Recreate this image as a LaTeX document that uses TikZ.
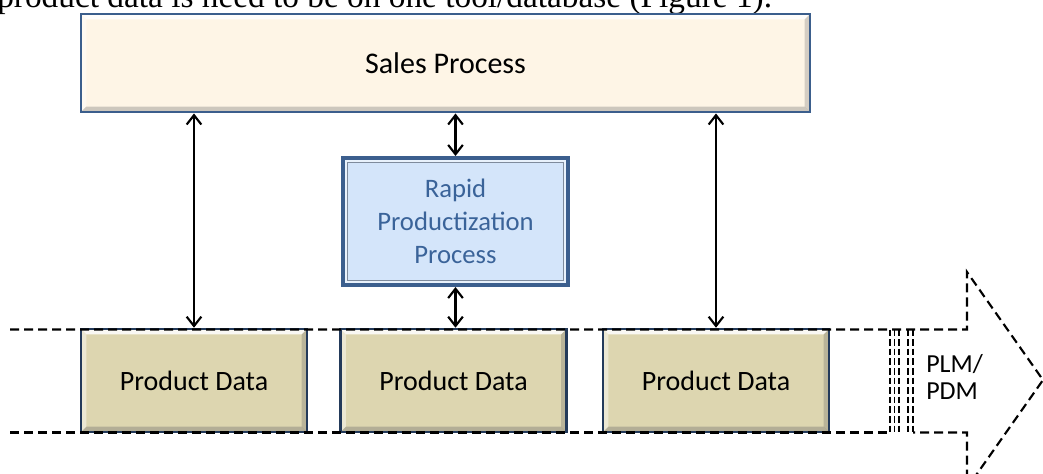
\documentclass[tikz,border=0pt]{standalone}
\usepackage{fontspec}
\setmainfont{Carlito}
\newfontfamily\bodyserif{Liberation Serif}
\usetikzlibrary{arrows.meta}

\definecolor{salesfill}{HTML}{FEF5E6}
\definecolor{salesedge}{HTML}{3B5E8C}
\definecolor{rapidfill}{HTML}{D4E5FA}
\definecolor{rapidedge}{HTML}{3C5F8E}
\definecolor{rapidinner}{HTML}{7F8B9C}
\definecolor{rapidtext}{HTML}{3A6399}
\definecolor{datafill}{HTML}{DDD6B0}
\definecolor{dataedge}{HTML}{233A5A}

% soft raised faces along the four inner sides of a box
\newcommand\bevelfaces[3]{%
  \fill[#2,opacity=.85] (path picture bounding box.north west) -- (path picture bounding box.north east)
     -- ([shift={(-#1,-#1)}]path picture bounding box.north east)
     -- ([shift={(#1,-#1)}]path picture bounding box.north west) -- cycle;
  \fill[#2,opacity=.45] (path picture bounding box.north west) -- ([shift={(#1,-#1)}]path picture bounding box.north west)
     -- ([shift={(#1,#1)}]path picture bounding box.south west) -- (path picture bounding box.south west) -- cycle;
  \fill[#3,opacity=.35] (path picture bounding box.south west) -- (path picture bounding box.south east)
     -- ([shift={(-#1,#1)}]path picture bounding box.south east)
     -- ([shift={(#1,#1)}]path picture bounding box.south west) -- cycle;
  \fill[#3,opacity=.3] (path picture bounding box.north east) -- ([shift={(-#1,-#1)}]path picture bounding box.north east)
     -- ([shift={(-#1,#1)}]path picture bounding box.south east) -- (path picture bounding box.south east) -- cycle;
}

\tikzset{
  salesbox/.style={rectangle, inner sep=0pt, fill=salesfill, draw=salesedge, line width=2.2pt,
    minimum width=546.75pt, minimum height=73.5pt,
    font=\fontsize{22.5}{27}\selectfont,
    path picture={\bevelfaces{4pt}{white}{black!55}}},
  rapidbox/.style={rectangle, inner sep=0pt, fill=rapidfill, draw=rapidedge, line width=3pt,
    minimum width=168.75pt, minimum height=95.25pt, align=center, text=rapidtext,
    font=\fontsize{20}{25}\selectfont,
    path picture={
      \fill[white,opacity=.5] (path picture bounding box.north west) rectangle (path picture bounding box.south east);
      \fill[rapidfill] ([shift={(3.9pt,-3.9pt)}]path picture bounding box.north west)
         rectangle ([shift={(-3.9pt,3.9pt)}]path picture bounding box.south east);
      \draw[rapidinner, line width=1.3pt] ([shift={(3.3pt,-3.3pt)}]path picture bounding box.north west)
         rectangle ([shift={(-3.3pt,3.3pt)}]path picture bounding box.south east);}},
  databox/.style={rectangle, inner sep=0pt, fill=datafill, draw=dataedge, line width=1.9pt,
    minimum width=169.5pt, minimum height=77.25pt,
    font=\fontsize{21}{25}\selectfont,
    path picture={\bevelfaces{4pt}{white}{black!60}}},
  band/.style={line width=1.6pt, dash pattern=on 6.75pt off 3.75pt},
  cut/.style={line width=1.3pt, dash pattern=on 5pt off 2.2pt},
  link/.style={line width=1.6pt,
    {Straight Barb[length=7pt,width=11pt]}-{Straight Barb[length=7pt,width=11pt]}},
}

\begin{document}
\begin{tikzpicture}[x=0.75pt, y=-0.75pt]
\useasboundingbox (0,0) rectangle (1043,474);
\clip (0,0) rectangle (1043,474);

% running text above the figure
\node[anchor=base west, inner sep=0pt, font=\bodyserif\fontsize{25}{30}\selectfont] (caption)
  at (-3,7.5) {product data is need to be on one tool/database (Figure 1).};

% process boxes
\node[salesbox] (sales) at (445.5,63) {Sales Process};
\node[rapidbox] (rapid) at (455.5,221.5) {Rapid\\Productization\\Process};

% product data records
\node[databox] (d1) at (194,380.5) {Product Data};
\node[databox] (d2) at (453.5,380.5) {Product Data};
\node[databox] (d3) at (716,380.5) {Product Data};

% the data band running into the PLM/PDM arrow
\coordinate (bandL) at (10,329.5);
\coordinate (bandLb) at (10,432.5);
\coordinate (headTop) at (967,272);
\coordinate (tip) at (1043,380);
\coordinate (headBot) at (967,488);
\draw[band] (bandL) -- (967,329.5) -- (headTop) -- (tip) -- (headBot) -- (967,432.5) -- (913,432.5);
\draw[band] (bandLb) -- (890,432.5);
\foreach \xx in {890,894.5,899,908,913}
  \draw[cut] (\xx,329.5) -- (\xx,432.5);

\node[anchor=west, inner sep=0pt, align=left, font=\fontsize{19.5}{20.3}\selectfont] (plm)
  at (926,377) {PLM/\\PDM};

% links between processes and data
\draw[link] (d1.north |- sales.south) -- (d1.north);
\draw[link] (d3.north |- sales.south) -- (d3.north);
\draw[link] (rapid.north |- sales.south) -- (rapid.north);
\draw[link] (rapid.south) -- (rapid.south |- d2.north);
\end{tikzpicture}
\end{document}
